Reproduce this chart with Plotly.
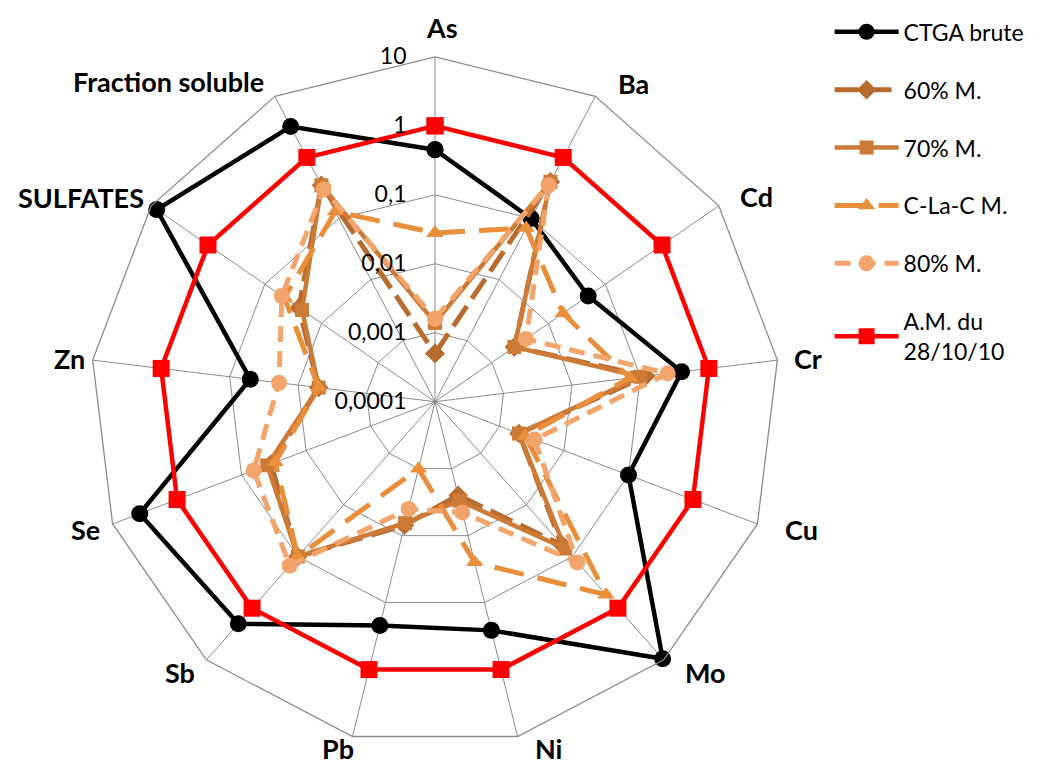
import plotly.graph_objects as go

categories = ["As", "Ba", "Cd", "Cr", "Cu", "Mo", "Ni", "Pb", "Sb", "Se", "Zn",
              "SULFATES", "Fraction soluble"]

ctga_brute = [0.45, 0.1, 0.05, 0.4, 0.1, 9.5, 0.26, 0.22, 2.0, 3.8, 0.05, 8.0, 3.2]
m60 = [0.0005, 0.4, 0.0025, 0.12, 0.002, 0.06, 0.0025, 0.007, 0.1, 0.035, 0.005, 0.025, 0.35]
m70 = [0.0014, 0.4, 0.0025, 0.1, 0.002, 0.07, 0.003, 0.0065, 0.1, 0.04, 0.005, 0.022, 0.35]
clac = [0.028, 0.07, 0.018, 0.07, 0.0025, 0.55, 0.025, 0.001, 0.1, 0.03, 0.005, 0.045, 0.13]
m80 = [0.0016, 0.35, 0.004, 0.25, 0.0035, 0.13, 0.0045, 0.004, 0.15, 0.065, 0.019, 0.05, 0.3]
am_281010 = [1, 1, 1, 1, 1, 1, 1, 1, 1, 1, 1, 1, 1]

tick_vals = [0.0001, 0.001, 0.01, 0.1, 1, 10]
tick_text = ["0,0001", "0,001", "0,01", "0,1", "1", "10"]

# Plotly hides markers on a log polar axis whose range dips below 1,
# so values are plotted in multiples of the innermost ring value.
UNIT = 0.0001

series = [
    ("CTGA brute", ctga_brute, "#000000", "solid", "circle", 17, 4.5),
    ("60% M.", m60, "#B96A2E", "24px,9px", "diamond", 15, 5),
    ("70% M.", m70, "#CD7A36", "solid", "square", 14, 4.5),
    ("C-La-C M.", clac, "#E98F3C", "30px,14px", "triangle-up", 15, 5),
    ("80% M.", m80, "#F2A46A", "16px,9px", "circle", 16, 5),
    ("A.M. du<br>28/10/10", am_281010, "#FF0000", "solid", "square", 17, 4.5),
]

W, H = 1040, 765
dom_x = [0.0789, 0.7423]
dom_y = [0.0346, 0.9361]
LABEL_SIZE = 27

# category label anchor points (pixels from top-left)
label_px = [(434, 13), (625, 76), (748, 188), (800, 351), (793, 521), (697, 664),
            (540, 744), (330, 744), (172, 664), (77, 521), (61, 351), (73, 189),
            (160, 74)]

fig = go.Figure()
for i, (name, vals, col, dash, sym, msize, lw) in enumerate(series):
    r = [v / UNIT for v in vals]
    fig.add_trace(go.Scatterpolar(
        r=r + [r[0]],
        theta=categories + [categories[0]],
        mode="lines+markers",
        name=name,
        legendgroup="g%d" % i,
        cliponaxis=False,
        line=dict(color=col, width=lw, dash=dash),
        marker=dict(symbol=sym, size=msize, color=col, line=dict(width=0)),
        customdata=vals + [vals[0]],
        hovertemplate="%{theta}: %{customdata}<extra>" + name + "</extra>",
    ))

half_box = LABEL_SIZE * 1.3 / 2 + 2
annotations = []
for cat, (px, py) in zip(categories, label_px):
    py = min(max(py, half_box), H - half_box - 5)
    annotations.append(dict(
        x=px / W, y=1 - py / H,
        xref="paper", yref="paper", text="<b>%s</b>" % cat, showarrow=False,
        xanchor="center", yanchor="middle",
        font=dict(size=LABEL_SIZE, color="black", family="Lato, Liberation Sans, sans-serif"),
    ))

fig.update_layout(
    width=W, height=H,
    paper_bgcolor="white",
    margin=dict(l=0, r=0, t=0, b=0),
    font=dict(family="Lato, Liberation Sans, sans-serif", color="black"),
    annotations=annotations,
    polar=dict(
        domain=dict(x=dom_x, y=dom_y),
        bgcolor="white",
        gridshape="linear",
        radialaxis=dict(
            type="log",
            range=[0, 5],
            tickvals=[t / UNIT for t in tick_vals],
            ticktext=tick_text,
            angle=90,
            tickangle=90,
            side="counterclockwise",
            showline=False,
            ticks="outside",
            ticklen=20,
            tickcolor="rgba(0,0,0,0)",
            gridcolor="#8c8c8c",
            gridwidth=1.3,
            tickfont=dict(size=23, color="black"),
        ),
        angularaxis=dict(
            type="category",
            categoryorder="array",
            categoryarray=categories,
            rotation=90,
            direction="clockwise",
            showline=True,
            linecolor="#8c8c8c",
            linewidth=1.3,
            gridcolor="#8c8c8c",
            gridwidth=1.3,
            ticks="",
            showticklabels=False,
        ),
    ),
    legend=dict(
        x=0.79, y=0.997, xanchor="left", yanchor="top",
        font=dict(size=23, color="black"),
        tracegroupgap=25,
        itemwidth=64,
    ),
)

fig.write_html("out.html")
